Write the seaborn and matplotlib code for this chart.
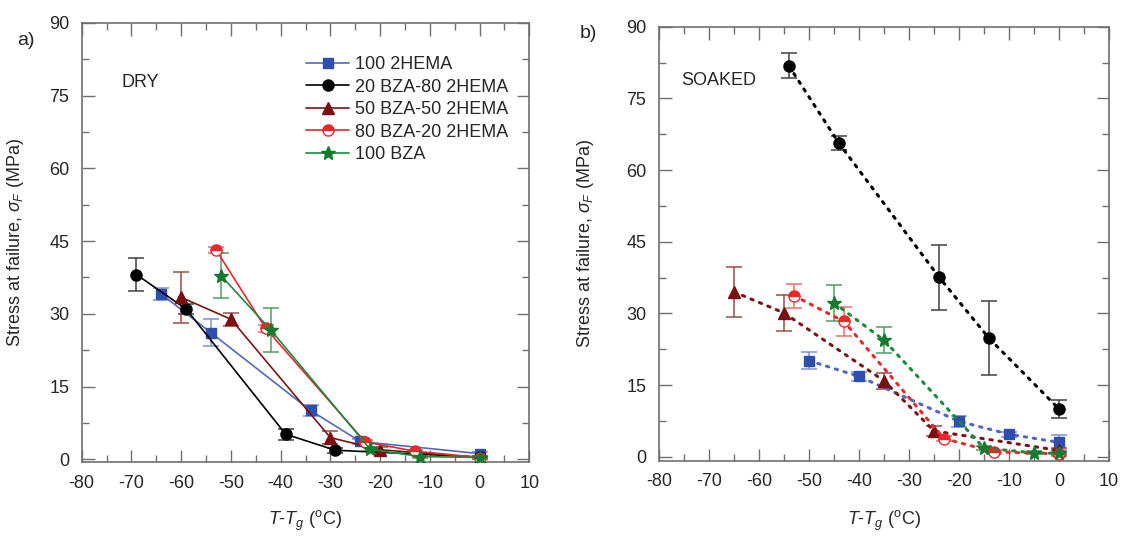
import numpy as np
import pandas as pd
import seaborn as sns
import matplotlib
matplotlib.use("Agg")
import matplotlib.pyplot as plt
from matplotlib.ticker import MultipleLocator

# =============================
# DATA
# =============================

names = ["100 2HEMA", "20 BZA-80 2HEMA", "50 BZA-50 2HEMA", "80 BZA-20 2HEMA", "100 BZA"]

# a) DRY
dry_x_hema = [-64, -54, -34, -24, 0]
dry_y_hema = [34.1, 26.1, 10.1, 3.7, 1.2]
dry_e_hema = [1.2, 2.8, 1.2, 0.5, 0.4]

dry_x_20bza = [-69, -59, -39, -29, 0]
dry_y_20bza = [38.1, 31.0, 5.2, 1.9, 0.5]
dry_e_20bza = [3.4, 1.0, 1.1, 0.5, 0.3]

dry_x_50bza = [-60, -50, -30, -20, 0]
dry_y_50bza = [33.4, 28.9, 4.5, 2.0, 0.4]
dry_e_50bza = [5.2, 1.3, 1.4, 0.5, 0.3]

dry_x_80bza = [-53, -43, -23, -13, 0]
dry_y_80bza = [43.2, 27.0, 3.6, 1.7, 0.4]
dry_e_80bza = [0.6, 0.8, 0.5, 0.3, 0.3]

dry_x_bza = [-52, -42, -22, -12, 0]
dry_y_bza = [37.9, 26.7, 2.1, 0.6, 0.4]
dry_e_bza = [4.7, 4.5, 0.4, 0.3, 0.3]

# b) SOAKED
wet_x_hema = [-50, -40, -20, -10, 0]
wet_y_hema = [20.1, 16.8, 7.4, 4.7, 3.0]
wet_e_hema = [1.8, 1.0, 1.1, 0.5, 1.5]

wet_x_20bza = [-54, -44, -24, -14, 0]
wet_y_20bza = [81.8, 65.6, 37.6, 24.8, 10.0]
wet_e_20bza = [2.6, 1.5, 6.8, 7.8, 1.8]

wet_x_50bza = [-65, -55, -35, -25, 0]
wet_y_50bza = [34.5, 30.1, 15.9, 5.4, 1.3]
wet_e_50bza = [5.3, 3.8, 1.7, 1.0, 0.5]

wet_x_80bza = [-53, -43, -23, -13, 0]
wet_y_80bza = [33.7, 28.3, 3.8, 1.0, 0.6]
wet_e_80bza = [2.5, 3.0, 0.5, 0.4, 0.4]

wet_x_bza = [-45, -35, -15, -5, 0]
wet_y_bza = [32.2, 24.4, 1.8, 0.8, 0.7]
wet_e_bza = [3.8, 2.8, 0.4, 0.3, 0.3]

dry = [(dry_x_hema, dry_y_hema, dry_e_hema), (dry_x_20bza, dry_y_20bza, dry_e_20bza),
       (dry_x_50bza, dry_y_50bza, dry_e_50bza), (dry_x_80bza, dry_y_80bza, dry_e_80bza),
       (dry_x_bza, dry_y_bza, dry_e_bza)]
wet = [(wet_x_hema, wet_y_hema, wet_e_hema), (wet_x_20bza, wet_y_20bza, wet_e_20bza),
       (wet_x_50bza, wet_y_50bza, wet_e_50bza), (wet_x_80bza, wet_y_80bza, wet_e_80bza),
       (wet_x_bza, wet_y_bza, wet_e_bza)]

# =============================
# STYLE
# =============================

line_colors = ["#5068c0", "#000000", "#7a1414", "#e8282a", "#1d8a3c"]
mark_colors = ["#2f4fb0", "#000000", "#7a1010", "#e8282a", "#157a30"]
err_colors = ["#7d8fd4", "#404040", "#9c4a4a", "#ef6c6c", "#4f9e62"]
markers = ["s", "o", "^", "o", "*"]
msizes = [7, 8, 8.5, 8, 10]

sns.set_style("ticks")
plt.rcParams["font.family"] = ["Liberation Sans", "DejaVu Sans"]
plt.rcParams["axes.unicode_minus"] = False
plt.rcParams["mathtext.fontset"] = "custom"
plt.rcParams["mathtext.it"] = "Liberation Sans:italic"
plt.rcParams["mathtext.rm"] = "Liberation Sans"

fig = plt.figure(figsize=(11.27, 5.37), dpi=100)
ax_a = fig.add_axes([0.0725, 0.139, 0.3972, 0.8186])
ax_b = fig.add_axes([0.5847, 0.142, 0.3993, 0.8082])

spine_col = "#707070"


def draw_panel(ax, series, ls, lw, ylo):
    for i, (x, y, e) in enumerate(series):
        ax.errorbar(x, y, yerr=e, fmt="none", ecolor=err_colors[i], elinewidth=1.1,
                    capsize=6, capthick=1.1, zorder=2)
        extra = {}
        if i == 3:
            extra = dict(fillstyle="top", markerfacecoloralt="white")
        sns.lineplot(x=x, y=y, ax=ax, sort=False, estimator=None, color=line_colors[i],
                     linestyle=ls, linewidth=lw, marker=markers[i], markersize=msizes[i],
                     markerfacecolor=mark_colors[i], markeredgecolor=mark_colors[i],
                     markeredgewidth=1.0, label=names[i], zorder=3, **extra)
    ax.set_xlim(-80, 10)
    ax.set_ylim(ylo, 90)
    ax.xaxis.set_major_locator(MultipleLocator(10))
    ax.xaxis.set_minor_locator(MultipleLocator(5))
    ax.yaxis.set_major_locator(MultipleLocator(15))
    ax.yaxis.set_minor_locator(MultipleLocator(7.5))
    ax.tick_params(which="both", direction="in", top=True, right=True, color=spine_col,
                   width=1.0, labelsize=13)
    ax.tick_params(which="major", length=9)
    ax.tick_params(which="minor", length=4.8)
    ax.tick_params(axis="y", pad=9)
    ax.tick_params(axis="x", pad=9)
    for s in ax.spines.values():
        s.set_color(spine_col)
        s.set_linewidth(1.2)
    ax.set_ylabel(r"Stress at failure, $\sigma_F$ (MPa)", fontsize=13)
    ax.set_xlabel(r"$T$-$T_g$ ($^{\rm o}$C)", fontsize=13)


draw_panel(ax_a, dry, "-", 1.2, -0.6)
draw_panel(ax_b, wet, (0, (0.8, 2.2)), 2.2, -0.85)

for ln in ax_b.get_lines():
    ln.set_dash_capstyle("round")

ax_a.legend(loc="upper left", bbox_to_anchor=(0.485, 0.94), frameon=False, fontsize=13,
            handlelength=2.4, handletextpad=0.3, labelspacing=0.3, borderaxespad=0)
ax_b.get_legend().remove()

ax_a.yaxis.set_label_coords(-0.125, 0.5)
ax_b.yaxis.set_label_coords(-0.14, 0.5)
ax_a.xaxis.set_label_coords(0.5, -0.105)
ax_b.xaxis.set_label_coords(0.5, -0.11)

ax_a.text(-72, 77.7, "DRY", fontsize=13, va="center")
ax_b.text(-75.6, 78.8, "SOAKED", fontsize=13, va="center")

fig.text(0.015, 0.925, "a)", fontsize=14, va="center")
fig.text(0.514, 0.937, "b)", fontsize=14, va="center")

fig.savefig("out.png", dpi=100)
